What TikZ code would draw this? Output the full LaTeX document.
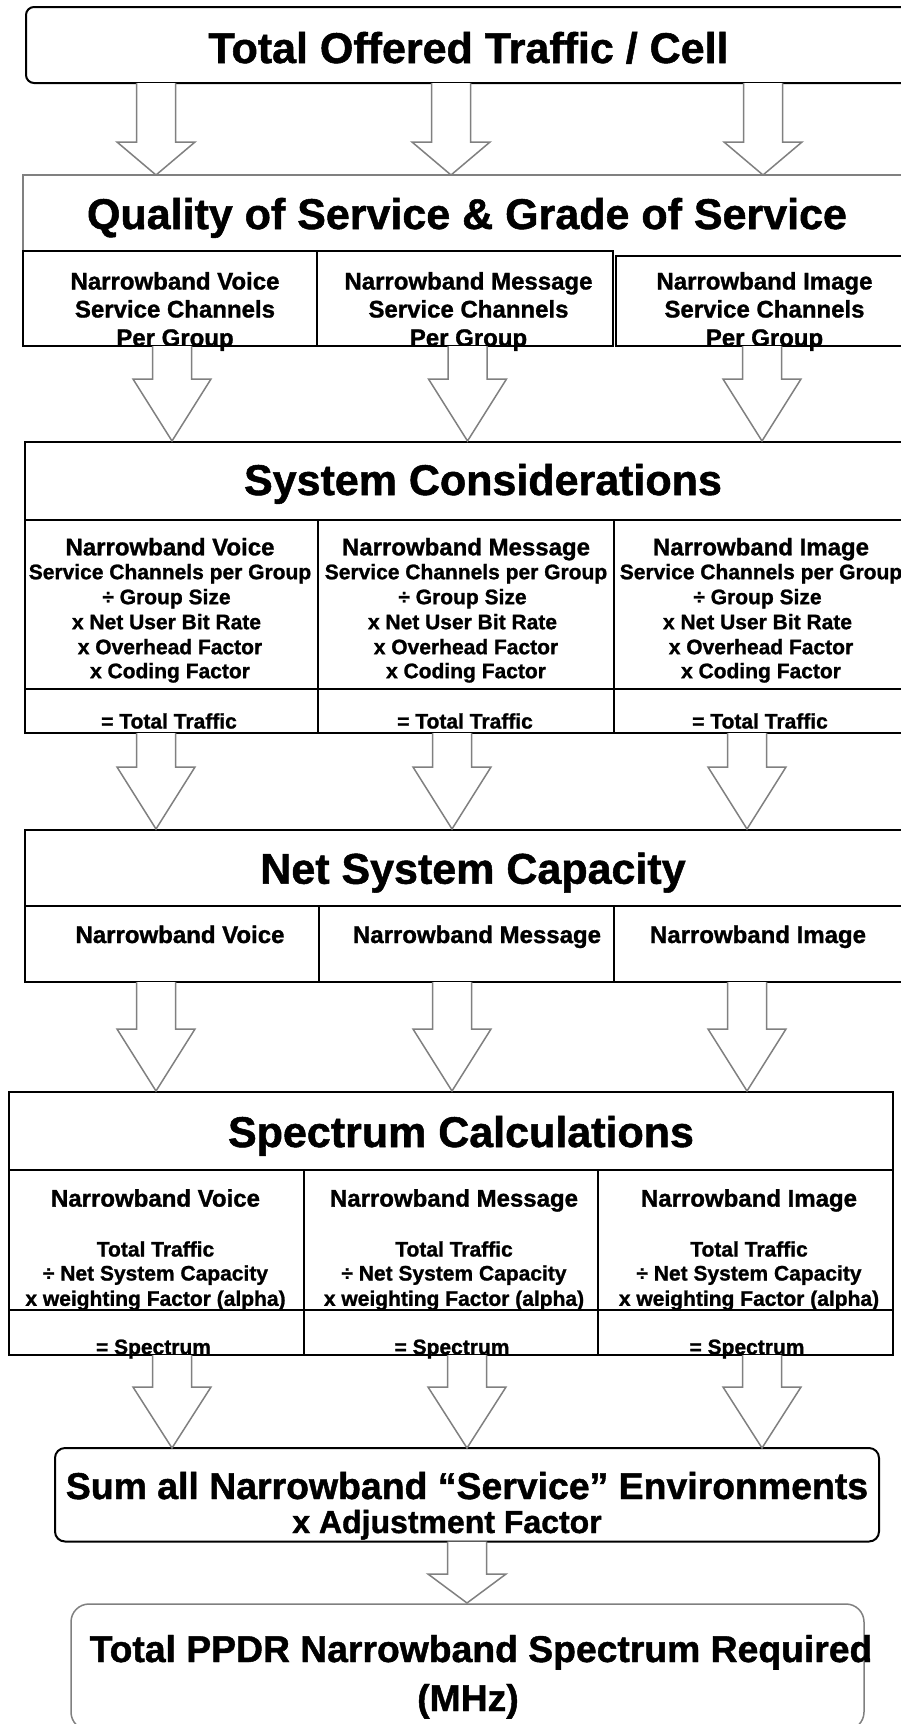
\documentclass[tikz,border=0pt]{standalone}
\usepackage{fontspec}
\setmainfont{Liberation Sans}[BoldFeatures={FakeBold=1.2}]
\definecolor{lgray}{gray}{0.5}
\tikzset{
  bx/.style={draw=black, line width=2pt},
  gbx/.style={draw=lgray, line width=1.5pt},
  barrow/.style={draw=lgray, fill=white, line width=1.5pt, line join=miter},
  ttl/.style={font=\fontsize{43}{48}\selectfont\bfseries, anchor=base, inner sep=0pt},
  hd/.style={font=\fontsize{24}{28}\selectfont\bfseries, anchor=base, inner sep=0pt},
  sm/.style={font=\fontsize{21}{25}\selectfont\bfseries, anchor=base, inner sep=0pt},
  big/.style={font=\fontsize{37.4}{42}\selectfont\bfseries, anchor=base, inner sep=0pt},
}
\newcommand\blockarr[4]{%
  \draw[barrow] ({#1-19.5},{#2}) -- ({#1-19.5},{#3}) -- ({#1-39},{#3}) -- ({#1},{#4})
     -- ({#1+39},{#3}) -- ({#1+19.5},{#3}) -- ({#1+19.5},{#2});}
\begin{document}
\begin{tikzpicture}[x=1pt,y=-1pt]
\useasboundingbox (0,0) rectangle (901,1724);
\clip (0,0) rectangle (901,1724);
\fill[white] (0,0) rectangle (901,1724);

% ---------- Box 1
\draw[bx, rounded corners=8pt] (26,7) rectangle (940,83);
\node[ttl] (t1) at (468.5,63) {Total Offered Traffic / Cell};

% ---------- Box 2
\draw[gbx] (23,251) -- (23,175) -- (940,175);
\draw[bx] (23,251) rectangle (317,346);
\draw[bx] (317,251) rectangle (613,346);
\draw[bx] (616,256) rectangle (940,346);
\node[ttl] (t2) at (467,229) {Quality of Service \& Grade of Service};
\node[hd] (q1a) at (175,289.5) {Narrowband Voice};
\node[hd] (q1b) at (175,317.5) {Service Channels};
\node[hd] (q1c) at (175,346) {Per Group};
\node[hd] (q2a) at (468.5,289.5) {Narrowband Message};
\node[hd] (q2b) at (468.5,317.5) {Service Channels};
\node[hd] (q2c) at (468.5,346) {Per Group};
\node[hd] (q3a) at (764.5,289.5) {Narrowband Image};
\node[hd] (q3b) at (764.5,317.5) {Service Channels};
\node[hd] (q3c) at (764.5,346) {Per Group};

% ---------- Box 3
\draw[bx] (25,442) rectangle (940,733);
\draw[bx] (25,519.5) -- (940,519.5);
\draw[bx] (25,689.3) -- (940,689.3);
\draw[bx] (318,519.5) -- (318,733);
\draw[bx] (614,519.5) -- (614,733);
\node[ttl] (t3) at (483,495) {System Considerations};
\foreach \c/\n/\w in {170/1/Voice,466/2/Message,761/3/Image}{
  \node[hd] (s\n a) at (\c,555.3) {Narrowband \w};
  \node[sm] (s\n b) at (\c,579.2) {Service Channels per Group};
  \node[sm] (s\n c) at (\c-3.5,604.2) {÷ Group Size};
  \node[sm] (s\n d) at (\c-3.5,629.2) {x Net User Bit Rate};
  \node[sm] (s\n e) at (\c,654.2) {x Overhead Factor};
  \node[sm] (s\n f) at (\c,678.2) {x Coding Factor};
  \node[sm] (s\n g) at (\c-1,728.5) {= Total Traffic};
}

% ---------- Box 4
\draw[bx] (25,830) rectangle (940,982);
\draw[bx] (25,905.7) -- (940,905.7);
\draw[bx] (319,905.7) -- (319,982);
\draw[bx] (614,905.7) -- (614,982);
\node[ttl] (t4) at (473,883.7) {Net System Capacity};
\node[hd] (n1) at (180,943) {Narrowband Voice};
\node[hd] (n2) at (477,943) {Narrowband Message};
\node[hd] (n3) at (758,943) {Narrowband Image};

% ---------- Box 5
\draw[bx] (8.5,1092) rectangle (893,1355);
\draw[bx] (8.5,1169.5) -- (893,1169.5);
\draw[bx] (8.5,1309.5) -- (893,1309.5);
\draw[bx] (303.5,1169.5) -- (303.5,1355);
\draw[bx] (598,1169.5) -- (598,1355);
\node[ttl] (t5) at (461,1147) {Spectrum Calculations};
\foreach \c/\n/\w in {155.5/1/Voice,454/2/Message,749/3/Image}{
  \node[hd] (p\n a) at (\c,1206.6) {Narrowband \w};
  \node[sm] (p\n b) at (\c,1256.5) {Total Traffic};
  \node[sm] (p\n c) at (\c,1280.5) {÷ Net System Capacity};
  \node[sm] (p\n d) at (\c,1305.8) {x weighting Factor (alpha)};
  \node[sm] (p\n e) at (\c-2,1354.2) {= Spectrum};
}

% ---------- Box 6
\draw[bx, rounded corners=10pt] (55,1448) rectangle (879,1541.5);
\node[big] (u1) at (467,1499) {Sum all Narrowband “Service” Environments};
\node[big, font=\fontsize{32}{36}\selectfont\bfseries] (u2) at (447,1533) {x Adjustment Factor};

% ---------- Box 7
\draw[gbx, rounded corners=18pt] (71,1604) rectangle (864,1730);
\node[big, font=\fontsize{37.3}{42}\selectfont\bfseries] (r1) at (481,1662) {Total PPDR Narrowband Spectrum Required};
\node[big, font=\fontsize{37.3}{42}\selectfont\bfseries] (r2) at (468,1711) {(MHz)};

% ---------- Block arrows
\blockarr{156}{83}{142}{175}
\blockarr{451}{83}{142}{175}
\blockarr{763}{83}{142}{175}
\blockarr{172}{346}{379}{441}
\blockarr{467.5}{346}{379}{441}
\blockarr{762}{346}{379}{441}
\blockarr{156}{733}{767}{829}
\blockarr{452}{733}{767}{829}
\blockarr{747}{733}{767}{829}
\blockarr{156}{982}{1029}{1091}
\blockarr{452}{982}{1029}{1091}
\blockarr{747}{982}{1029}{1091}
\blockarr{172}{1355}{1387}{1448}
\blockarr{467}{1355}{1387}{1448}
\blockarr{762}{1355}{1387}{1448}
\blockarr{467}{1541.5}{1574}{1603}
\end{tikzpicture}
\end{document}
